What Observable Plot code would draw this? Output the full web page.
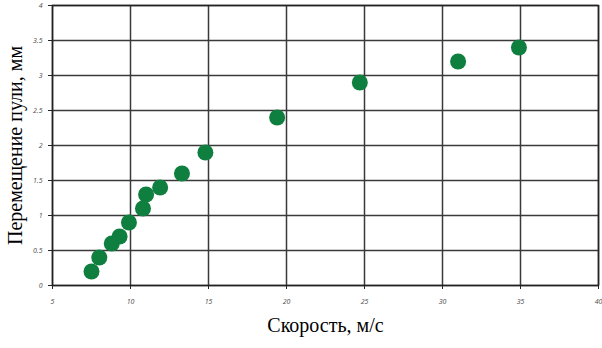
<!DOCTYPE html>
<html><head><meta charset="utf-8">
<script src="https://cdn.jsdelivr.net/npm/d3@7"></script>
<script src="https://cdn.jsdelivr.net/npm/@observablehq/plot@0.6"></script>
<style>body{margin:0;background:#fff;} </style>
</head><body><div id="chart"></div>
<script>
const speed = [7.5, 8.0, 8.8, 9.3, 9.9, 10.8, 11.0, 11.9, 13.3, 14.8, 19.4, 24.7, 31.0, 34.9];
const shift = [0.2, 0.4, 0.6, 0.7, 0.9, 1.1, 1.3, 1.4, 1.6, 1.9, 2.4, 2.9, 3.2, 3.4];
const xTicks = [5, 10, 15, 20, 25, 30, 35, 40];
const yTicks = [0, 0.5, 1, 1.5, 2, 2.5, 3, 3.5, 4];
const xLabel = "Скорость, м/с";
const yLabel = "Перемещение пули, мм";
const data = speed.map((s, i) => ({speed: s, shift: shift[i]}));

const chart = Plot.plot({
  width: 602, height: 348,
  marginLeft: 52, marginRight: 4, marginTop: 5, marginBottom: 63,
  style: {background: "#fff"},
  x: {domain: [5, 40], ticks: xTicks},
  y: {domain: [0, 4], ticks: yTicks},
  marks: [
    Plot.gridX(xTicks, {stroke: "#3a3a3a", strokeOpacity: 1, strokeWidth: 1.5}),
    Plot.gridY(yTicks, {stroke: "#3a3a3a", strokeOpacity: 1, strokeWidth: 1.5}),
    Plot.frame({stroke: "#222", strokeWidth: 1.5}),
    Plot.axisX(xTicks, {tickSize: 4, tickPadding: 10, fontSize: 7, fontStyle: "italic", fill: "#555", stroke: "#222", label: null, tickFormat: d => d}),
    Plot.axisY(yTicks, {tickSize: 4, tickPadding: 6, fontSize: 7, fontStyle: "italic", fill: "#555", stroke: "#222", label: null, tickFormat: d => d}),
    Plot.dot(data, {x: "speed", y: "shift", r: 8, fill: "#0f7f3f", stroke: "none"}),
    Plot.text([xLabel], {frameAnchor: "bottom", textAnchor: "middle", dy: 46, fontSize: 20, fontFamily: "Liberation Serif", fill: "#000"}),
    Plot.text([yLabel], {frameAnchor: "left", textAnchor: "middle", dx: -37, rotate: -90, fontSize: 20, fontFamily: "Liberation Serif", fill: "#000"})
  ]
});
document.getElementById("chart").append(chart);
</script></body></html>
